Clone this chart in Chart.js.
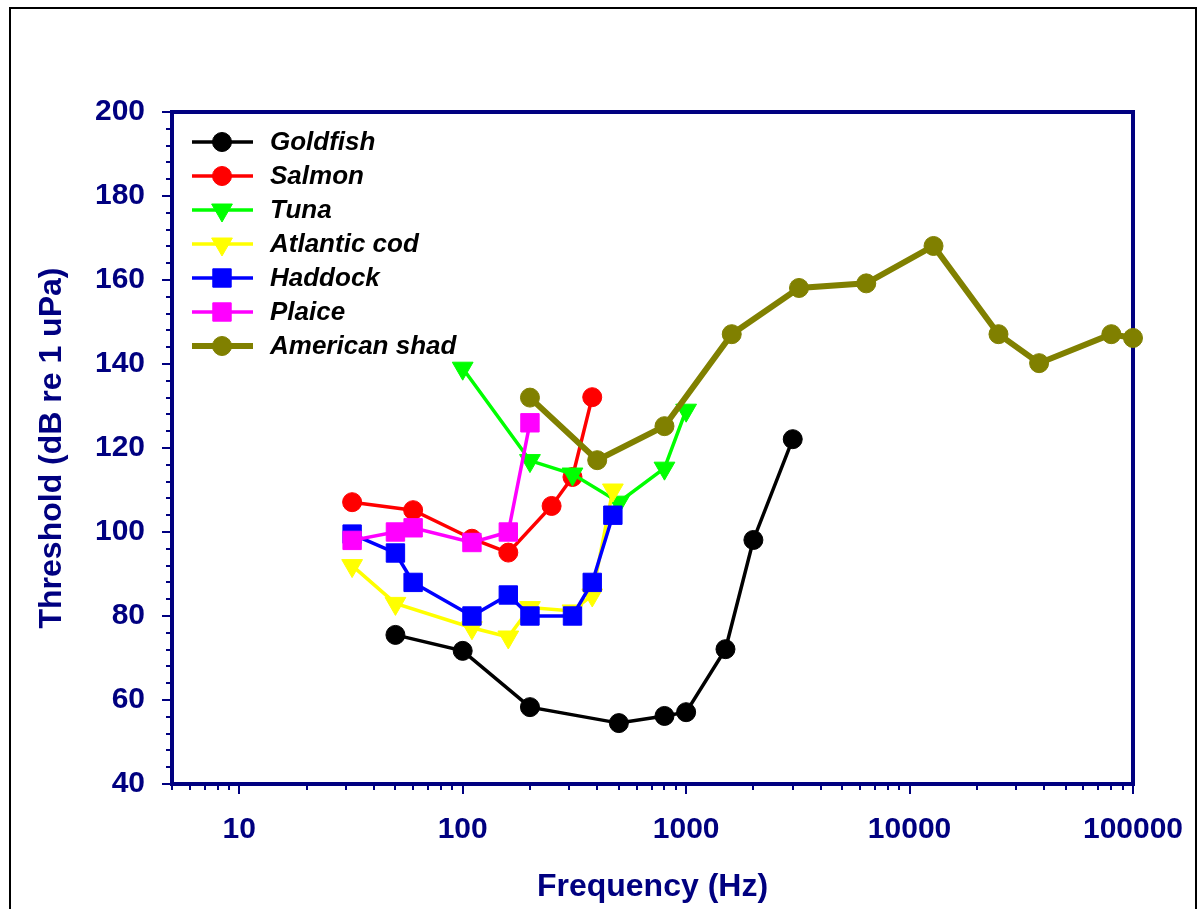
<!DOCTYPE html>
<html>
<head>
<meta charset="utf-8">
<style>
  html, body { margin: 0; padding: 0; background: #ffffff; }
  #c { display: block; }
</style>
<script src="https://cdn.jsdelivr.net/npm/chart.js@4.4.1/dist/chart.umd.min.js"></script>
</head>
<body>
<canvas id="c" width="1199" height="909"></canvas>
<script>
// ---- data ----
const seriesNames = ["Goldfish", "Salmon", "Tuna", "Atlantic cod", "Haddock", "Plaice", "American shad"];

const goldfishFreq = [50, 100, 200, 500, 800, 1000, 1500, 2000, 3000];
const goldfishDb   = [75.5, 71.7, 58.3, 54.5, 56.2, 57.1, 72.1, 98.1, 122.1];

const salmonFreq = [32, 60, 110, 160, 250, 310, 380];
const salmonDb   = [107.1, 105.2, 98.4, 95.1, 106.2, 113.1, 132.1];

const tunaFreq = [100, 200, 310, 500, 800, 1000];
const tunaDb   = [139, 117, 113.8, 107.1, 115.2, 129];

const codFreq = [32, 50, 110, 160, 200, 310, 380, 470];
const codDb   = [92, 83, 77.2, 75, 82, 81.2, 85, 110];

const haddockFreq = [32, 50, 60, 110, 160, 200, 310, 380, 470];
const haddockDb   = [99.5, 95, 88, 80, 85, 80, 80, 88, 104];

const plaiceFreq = [32, 50, 60, 110, 160, 200];
const plaiceDb   = [98, 100, 101, 97.5, 100, 126];

const shadFreq = [200, 400, 800, 1600, 3200, 6400, 12800, 25000, 38000, 80000, 100000];
const shadDb   = [132, 117.1, 125.2, 147.1, 158.1, 159.2, 168.1, 147.1, 140.2, 147.1, 146.2];

const xTickLabels = [10, 100, 1000, 10000, 100000];
const yTickLabels = [40, 60, 80, 100, 120, 140, 160, 180, 200];

const xTitle = "Frequency (Hz)";
const yTitle = "Threshold (dB re 1 uPa)";

// ---- styling ----
const NAVY = "#000080";
const FONT = "'Liberation Sans', Arial, Helvetica, sans-serif";

function pts(xs, ys) { return xs.map((x, i) => ({ x: x, y: ys[i] })); }

const styles = [
  { color: "#000000", style: "circle",   radius: 9.5, rot: 0,   lw: 3.5 },
  { color: "#ff0000", style: "circle",   radius: 9.5, rot: 0,   lw: 3.5 },
  { color: "#00ff00", style: "triangle", radius: 12,  rot: 180, lw: 3.5 },
  { color: "#ffff00", style: "triangle", radius: 12,  rot: 180, lw: 3.5 },
  { color: "#0000ff", style: "rect",     radius: 13,  rot: 0,   lw: 3.5 },
  { color: "#ff00ff", style: "rect",     radius: 13,  rot: 0,   lw: 3.5 },
  { color: "#808000", style: "circle",   radius: 9.5, rot: 0,   lw: 6 }
];
const seriesData = [
  pts(goldfishFreq, goldfishDb),
  pts(salmonFreq, salmonDb),
  pts(tunaFreq, tunaDb),
  pts(codFreq, codDb),
  pts(haddockFreq, haddockDb),
  pts(plaiceFreq, plaiceDb),
  pts(shadFreq, shadDb)
];

const datasets = seriesNames.map((name, i) => ({
  label: name,
  data: seriesData[i],
  borderColor: styles[i].color,
  backgroundColor: styles[i].color,
  borderWidth: styles[i].lw,
  pointStyle: styles[i].style,
  pointRadius: styles[i].radius,
  pointHoverRadius: styles[i].radius,
  pointRotation: styles[i].rot,
  pointBorderWidth: 1,
  pointBorderColor: styles[i].color,
  pointBackgroundColor: styles[i].color,
  tension: 0,
  fill: false,
  clip: false,
  order: seriesNames.length - i
}));

const decorPlugin = {
  id: "decor",
  beforeDatasetsDraw(chart) {
    const ctx = chart.ctx;
    const a = chart.chartArea;
    const xs = chart.scales.x, ys = chart.scales.y;
    ctx.save();
    // outer black border
    ctx.strokeStyle = "#000000";
    ctx.lineWidth = 2;
    ctx.strokeRect(10, 8, 1186, 940);

    // y ticks (major every 20, minor every 4)
    ctx.strokeStyle = NAVY;
    ctx.lineWidth = 2;
    for (let v = ys.min; v <= ys.max + 0.001; v += 4) {
      const y = Math.round(ys.getPixelForValue(v));
      const major = yTickLabels.indexOf(v) >= 0;
      ctx.beginPath();
      ctx.moveTo(a.left, y);
      ctx.lineTo(a.left - (major ? 10 : 6), y);
      ctx.stroke();
    }
    // x ticks (log: decades major, 2..9 minor)
    for (let dec = 1; dec <= 100000; dec *= 10) {
      for (let m = 1; m <= 9; m++) {
        const v = dec * m;
        if (v < xs.min - 1e-9 || v > xs.max + 1e-9) continue;
        const x = Math.round(xs.getPixelForValue(v));
        ctx.beginPath();
        ctx.moveTo(x, a.bottom);
        ctx.lineTo(x, a.bottom + (m === 1 ? 10 : 6));
        ctx.stroke();
      }
    }
    // frame
    ctx.lineWidth = 4;
    ctx.strokeStyle = NAVY;
    ctx.strokeRect(a.left, a.top, a.right - a.left, a.bottom - a.top);

    // axis titles
    ctx.fillStyle = NAVY;
    ctx.font = "bold 32px " + FONT;
    ctx.textAlign = "center";
    ctx.textBaseline = "middle";
    ctx.fillText(xTitle, (a.left + a.right) / 2, 887);
    ctx.translate(52, (a.top + a.bottom) / 2);
    ctx.rotate(-Math.PI / 2);
    ctx.fillText(yTitle, 0, 0);
    ctx.restore();
  },
  afterDraw(chart) {
    const ctx = chart.ctx;
    ctx.save();
    const x0 = 192, x1 = 253, xm = 222, xt = 270, y0 = 142, dy = 34;
    chart.data.datasets.forEach((ds, i) => {
      const y = y0 + i * dy;
      ctx.strokeStyle = ds.borderColor;
      ctx.lineWidth = ds.borderWidth;
      ctx.beginPath();
      ctx.moveTo(x0, y);
      ctx.lineTo(x1, y);
      ctx.stroke();
      ctx.fillStyle = ds.pointBackgroundColor;
      ctx.strokeStyle = ds.pointBorderColor;
      ctx.lineWidth = 1;
      Chart.helpers.drawPoint(ctx, {
        pointStyle: ds.pointStyle,
        rotation: ds.pointRotation,
        radius: ds.pointRadius,
        borderWidth: 1
      }, xm, y);
      ctx.fillStyle = "#000000";
      ctx.font = "italic bold 26px " + FONT;
      ctx.textAlign = "left";
      ctx.textBaseline = "middle";
      ctx.fillText(ds.label, xt, y + 1);
    });
    ctx.restore();
  }
};

new Chart(document.getElementById("c"), {
  type: "line",
  data: { datasets: datasets },
  options: {
    responsive: false,
    devicePixelRatio: 1,
    animation: false,
    layout: { padding: { left: 0, right: 66, top: 112, bottom: 0 } },
    plugins: { legend: { display: false }, tooltip: { enabled: false }, title: { display: false } },
    scales: {
      x: {
        type: "logarithmic",
        position: "bottom",
        min: 5,
        max: 100000,
        grid: { display: false, drawTicks: false },
        border: { display: false },
        afterFit(scale) { scale.height = 125; scale.paddingLeft = 0; scale.paddingRight = 0; },
        afterBuildTicks(scale) {
          scale.ticks = xTickLabels.map(v => ({ value: v }));
        },
        ticks: {
          autoSkip: false,
          maxRotation: 0,
          minRotation: 0,
          padding: 28,
          color: NAVY,
          font: { family: FONT, weight: "bold", size: 30 },
          callback: (v) => String(v)
        }
      },
      y: {
        type: "linear",
        position: "left",
        min: 40,
        max: 200,
        grid: { display: false, drawTicks: false },
        border: { display: false },
        afterFit(scale) { scale.width = 172; scale.paddingTop = 0; scale.paddingBottom = 0; },
        afterBuildTicks(scale) {
          scale.ticks = yTickLabels.map(v => ({ value: v }));
        },
        ticks: {
          padding: 27,
          color: NAVY,
          font: { family: FONT, weight: "bold", size: 30 },
          callback: (v) => String(v)
        }
      }
    }
  },
  plugins: [decorPlugin]
});
</script>
</body>
</html>
